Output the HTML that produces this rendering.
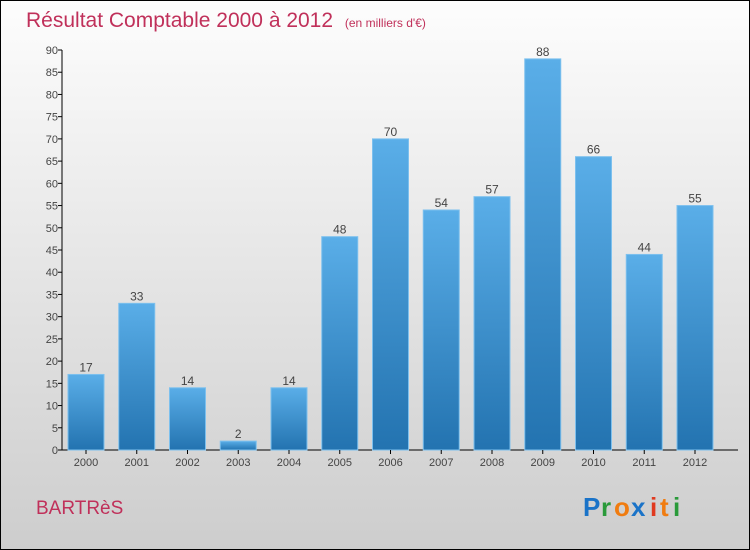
<!DOCTYPE html>
<html><head><meta charset="utf-8"><style>
body{margin:0;width:750px;height:550px;overflow:hidden}
svg{display:block;font-family:"Liberation Sans","DejaVu Sans",sans-serif}
</style></head><body>
<svg id="chart" width="750" height="550">
<defs>
<linearGradient id="bg" x1="0" y1="0" x2="0" y2="1"><stop offset="0" stop-color="#fdfdfd"/><stop offset="1" stop-color="#cdcdcd"/></linearGradient>
<linearGradient id="bar" x1="0" y1="0" x2="0" y2="1"><stop offset="0" stop-color="#5aaee8"/><stop offset="1" stop-color="#2373b0"/></linearGradient>
</defs>
<rect x="0.5" y="0.5" width="749" height="549" fill="url(#bg)" stroke="#000"/>
<text x="26" y="27" font-size="21" fill="#c0305a">Résultat Comptable 2000 à 2012 <tspan font-size="12" dx="6">(en milliers d'€)</tspan></text>
<text x="36" y="514" font-size="19" fill="#c0305a">BARTRèS</text>
<g font-size="26" font-weight="bold">
<text x="583" y="516" fill="#1a73c8">P</text><text x="601" y="516" fill="#2a9a3a">r</text><text x="614" y="516" fill="#f07c10">o</text><text x="631" y="516" fill="#1a73c8">x</text><text x="650" y="516" fill="#e03a20">i</text><text x="660" y="516" fill="#f07c10">t</text><text x="673" y="516" fill="#2a9a3a">i</text>
</g>
<g id="plot"></g>
</svg>
<script>
const categories=["2000","2001","2002","2003","2004","2005","2006","2007","2008","2009","2010","2011","2012"];
const values=[17,33,14,2,14,48,70,54,57,88,66,44,55];
const yTicks=[0,5,10,15,20,25,30,35,40,45,50,55,60,65,70,75,80,85,90];
const NS="http://www.w3.org/2000/svg";
const g=document.getElementById('plot');
const y0=450,yTop=50,yMax=90,x0=62;
const y=v=>y0-(v/yMax)*(y0-yTop);
const xc=i=>86+i*50.75;
function mk(t,a){const e=document.createElementNS(NS,t);for(const k in a)e.setAttribute(k,a[k]);g.appendChild(e);return e;}
let ax=mk('line',{x1:x0,y1:yTop,x2:x0,y2:y0,stroke:'#000'});


let bx=mk('line',{x1:x0,y1:y0,x2:738,y2:y0,stroke:'#000'});


yTicks.forEach(v=>{
 let tk=mk('line',{x1:x0-4,y1:y(v),x2:x0,y2:y(v),stroke:'#000'});
 
 
 let t=mk('text',{x:x0-4,y:y(v)+4,'font-size':11,fill:'#444','text-anchor':'end'});
 t.textContent=v;
 
 
});
categories.forEach((c,i)=>{
 const v=values[i];
 let r=mk('rect',{x:xc(i)-18,y:y(v),width:36,height:y0-y(v),fill:'url(#bar)',stroke:'#7cc0ee','stroke-width':1});
 
 
 let tk=mk('line',{x1:xc(i),y1:y0,x2:xc(i),y2:y0+4,stroke:'#000'});
 
 
 let t=mk('text',{x:xc(i),y:y0+16,'font-size':11,fill:'#444','text-anchor':'middle'});
 t.textContent=c;
 
 
 let l=mk('text',{x:xc(i),y:y(v)-3,'font-size':12,fill:'#444','text-anchor':'middle'});
 l.textContent=v;
 
 
});
</script>
</body></html>
